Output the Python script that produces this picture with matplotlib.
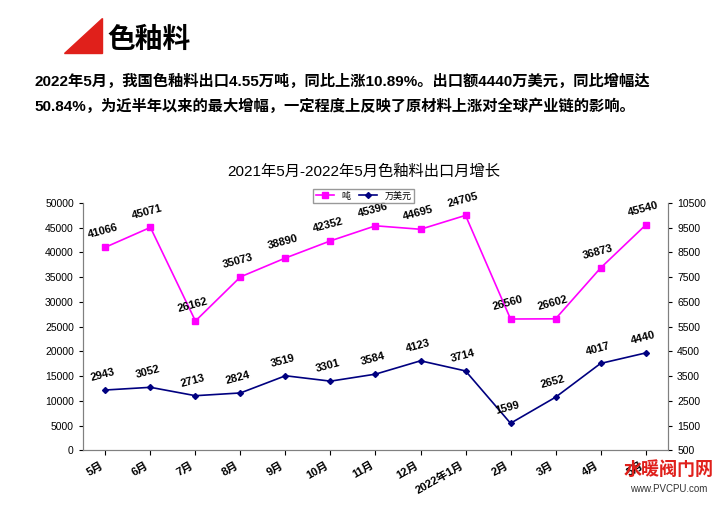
import matplotlib

matplotlib.use("Agg")
import matplotlib.pyplot as plt
from matplotlib import font_manager
from matplotlib.patches import Polygon

cjk = sorted({f.name for f in font_manager.fontManager.ttflist if "CJK" in f.name})
sans = [n for n in cjk if "Sans" in n]
family = "Noto Sans CJK SC" if "Noto Sans CJK SC" in sans else (sans[0] if sans else "DejaVu Sans")
plt.rcParams["font.family"] = ["Liberation Sans", family, "DejaVu Sans"]

months = ["5月", "6月", "7月", "8月", "9月", "10月", "11月", "12月",
          "2022年1月", "2月", "3月", "4月", "5月"]
tons = [41066, 45071, 26162, 35073, 38890, 42352, 45396, 44695,
        47500, 26560, 26602, 36873, 45540]
tons_labels = ["41066", "45071", "26162", "35073", "38890", "42352", "45396",
               "44695", "24705", "26560", "26602", "36873", "45540"]
usd = [2943, 3052, 2713, 2824, 3519, 3301, 3584, 4123, 3714, 1599, 2652, 4017, 4440]

fig = plt.figure(figsize=(7.27, 5.05), dpi=100)

# header
fig.patches.append(Polygon([[0.088, 0.895], [0.14, 0.895], [0.14, 0.965]],
                           closed=True, transform=fig.transFigure,
                           color="#e0201b"))
fig.text(0.148, 0.92, "色釉料", fontsize=20, va="center", fontweight="bold")
fig.text(0.048, 0.838, "2022年5月，我国色釉料出口4.55万吨，同比上涨10.89%。出口额4440万美元，同比增幅达",
         fontsize=11, fontweight="bold", va="center")
fig.text(0.048, 0.79, "50.84%，为近半年以来的最大增幅，一定程度上反映了原材料上涨对全球产业链的影响。",
         fontsize=11, fontweight="bold", va="center")
fig.text(0.5, 0.66, "2021年5月-2022年5月色釉料出口月增长", fontsize=11, ha="center",
         va="center")

ax = fig.add_axes([0.114, 0.108, 0.805, 0.49])
ax2 = ax.twinx()
x = list(range(len(months)))

ax.plot(x, tons, color="#ff00ff", marker="s", markersize=4, linewidth=1.2, label="吨")
ax2.plot(x, usd, color="#000080", marker="D", markersize=3, linewidth=1.2, label="万美元")

for xi, v, t in zip(x, tons, tons_labels):
    ax.annotate(t, (xi, v), xytext=(-2, 5), textcoords="offset points",
                ha="center", va="bottom", fontsize=8, fontweight="bold", rotation=15)
for xi, v in zip(x, usd):
    ax2.annotate(str(v), (xi, v), xytext=(-2, 5), textcoords="offset points",
                 ha="center", va="bottom", fontsize=8, fontweight="bold", rotation=15)

ax.set_ylim(0, 50000)
ax.set_yticks(range(0, 50001, 5000))
ax2.set_ylim(500, 10500)
ax2.set_yticks(range(500, 10501, 1000))
ax.set_xlim(-0.5, len(months) - 0.5)
ax.set_xticks(x)
ax.set_xticklabels(months, rotation=30, ha="right", fontsize=8, fontweight="bold")
for a in (ax, ax2):
    a.tick_params(axis="y", labelsize=7.5, length=3)
    for s in a.spines.values():
        s.set_color("#808080")
    a.spines["top"].set_visible(False)

h1, l1 = ax.get_legend_handles_labels()
h2, l2 = ax2.get_legend_handles_labels()
fig.legend(h1 + h2, l1 + l2, loc="center", bbox_to_anchor=(0.5, 0.612), ncol=2,
           fontsize=6.5, frameon=True, fancybox=False, edgecolor="#808080",
           handlelength=2, borderpad=0.25, columnspacing=1)

fig.text(0.92, 0.06, "水暖阀门网", fontsize=13, color="#e0201b", fontweight="bold",
         ha="center")
fig.text(0.92, 0.025, "www.PVCPU.com", fontsize=7, color="#333333", ha="center")

fig.savefig("out.png", dpi=100)
